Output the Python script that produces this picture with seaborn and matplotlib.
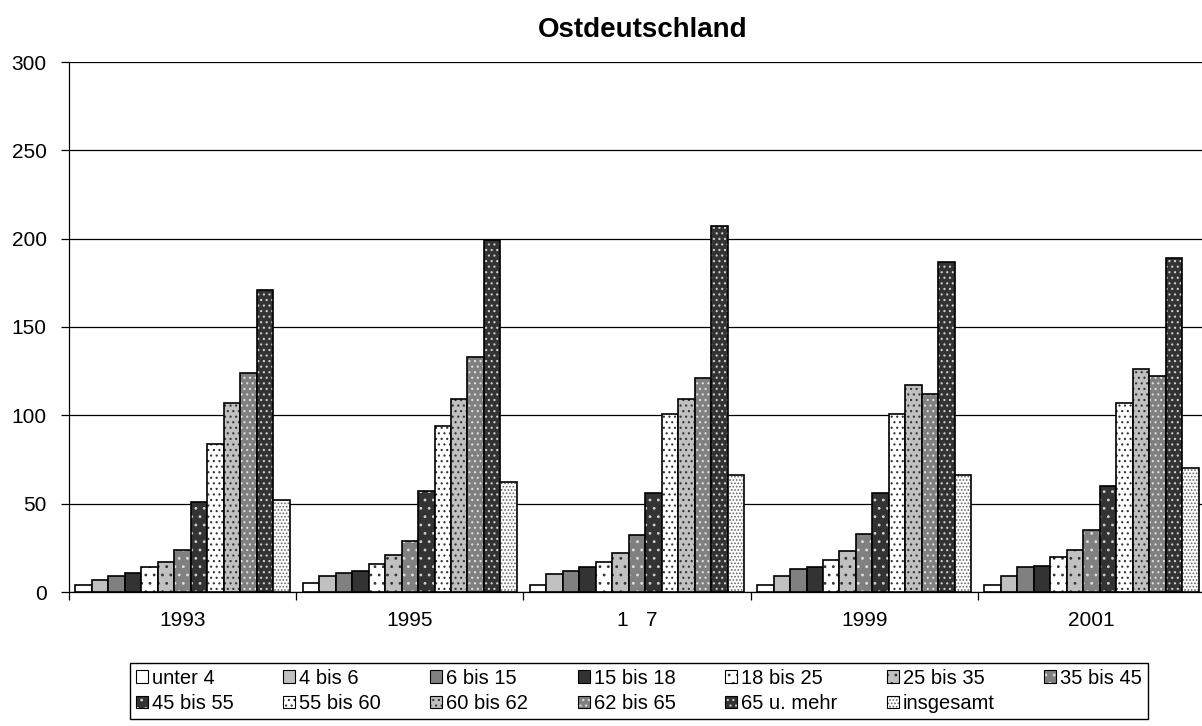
import pandas as pd
import seaborn as sns
import matplotlib.pyplot as plt
from matplotlib.patches import Patch
from matplotlib.colors import to_rgba

# ----------------------------- DATEN -----------------------------
years = ["1993", "1995", "1   7", "1999", "2001"]

unter_4 = [4, 5, 4, 4, 4]
bis_6 = [7, 9, 10, 9, 9]
bis_15 = [9, 11, 12, 13, 14]
bis_18 = [11, 12, 14, 14, 15]
bis_25 = [14, 16, 17, 18, 20]
bis_35 = [17, 21, 22, 23, 24]
bis_45 = [24, 29, 32, 33, 35]
bis_55 = [51, 57, 56, 56, 60]
bis_60 = [84, 94, 101, 101, 107]
bis_62 = [107, 109, 109, 117, 126]
bis_65 = [124, 133, 121, 112, 122]
ueber_65 = [171, 199, 207, 187, 189]
insgesamt = [52, 62, 66, 66, 70]

groups = ["unter 4", "4 bis 6", "6 bis 15", "15 bis 18", "18 bis 25", "25 bis 35",
          "35 bis 45", "45 bis 55", "55 bis 60", "60 bis 62", "62 bis 65",
          "65 u. mehr", "insgesamt"]
series = [unter_4, bis_6, bis_15, bis_18, bis_25, bis_35, bis_45,
          bis_55, bis_60, bis_62, bis_65, ueber_65, insgesamt]

# Stil pro Gruppe (Füllung, Schraffur, Punktfarbe)
faces = ["white", "#c0c0c0", "#808080", "#333333",
         "white", "#c0c0c0", "#808080", "#333333",
         "white", "#c0c0c0", "#808080", "#333333", "white"]
hatches = ["", "", "", "",
           "..", "..", "..", "..",
           "...", "...", "...", "...", "....."]
dot_colors = ["black", "black", "black", "black",
              "#333333", "#333333", "#e0e0e0", "#d0d0d0",
              "#333333", "#333333", "#e0e0e0", "#d0d0d0", "#666666"]

rows = []
for g, vals in zip(groups, series):
    for y, v in zip(years, vals):
        rows.append({"Jahr": y, "Gruppe": g, "Wert": v})
df = pd.DataFrame(rows)

# ----------------------------- PLOT -----------------------------
sns.set_style("white")
plt.rcParams["font.family"] = ["Liberation Sans", "DejaVu Sans"]
plt.rcParams["hatch.linewidth"] = 0.8
plt.rcParams["text.color"] = "black"
plt.rcParams["xtick.color"] = "black"
plt.rcParams["ytick.color"] = "black"

fig = plt.figure(figsize=(12.02, 7.26), dpi=100)
ax = fig.add_axes([69 / 1202, 1 - 592 / 726, (1205 - 69) / 1202, (592 - 62) / 726])

sns.barplot(data=df, x="Jahr", y="Wert", hue="Gruppe", order=years, hue_order=groups,
            palette=faces, saturation=1, width=0.943, gap=0, edgecolor="black",
            linewidth=1.2, legend=False, ax=ax)


def set_dots(patch, color):
    if hasattr(patch, "set_hatchcolor"):
        patch.set_hatchcolor(color)
    else:
        patch._hatch_color = to_rgba(color)


for i, cont in enumerate(ax.containers):
    for bar in cont:
        bar.set_hatch(hatches[i])
        set_dots(bar, dot_colors[i])

ax.set_ylim(0, 300)
ax.set_xlim(-0.5, 4.5)
ax.set_yticks(range(0, 301, 50))
ax.yaxis.grid(True, color="black", linewidth=0.9)
ax.set_axisbelow(True)
ax.set_xticks([-0.5, 0.5, 1.5, 2.5, 3.5], minor=True)
ax.tick_params(axis="x", which="major", length=0, labelsize=15, pad=14,
               labelcolor="black")
ax.tick_params(axis="x", which="minor", length=6, width=0.9, direction="out", bottom=True)
ax.tick_params(axis="y", length=6, width=0.9, direction="out", left=True, labelsize=15,
               pad=10, labelcolor="black")
for side in ["top", "right"]:
    ax.spines[side].set_visible(False)
for side in ["left", "bottom"]:
    ax.spines[side].set_color("black")
    ax.spines[side].set_linewidth(0.9)
ax.set_xlabel("")
ax.set_ylabel("")

fig.text(643 / 1202, 1 - 30 / 726, "Ostdeutschland", ha="center", va="center",
         fontsize=20, fontweight="bold", color="black")

handles = []
for i, g in enumerate(groups):
    p = Patch(facecolor=faces[i], edgecolor="black", hatch=hatches[i], linewidth=0.8, label=g)
    set_dots(p, dot_colors[i])
    handles.append(p)

# Legende zeilenweise füllen (matplotlib füllt spaltenweise)
ncol = 7
order = []
for c in range(ncol):
    order += [k for k in (c, c + ncol) if k < len(handles)]
handles = [handles[k] for k in order]

leg = fig.legend(handles=handles, ncol=ncol, loc="center",
                 bbox_to_anchor=(639 / 1202, 1 - 691 / 726), fontsize=14.5,
                 frameon=True, fancybox=False, edgecolor="black", framealpha=1,
                 handlelength=0.6, handleheight=0.6, handletextpad=0.2,
                 columnspacing=2.45, labelspacing=0.3, borderpad=0.3, borderaxespad=0)
leg.get_frame().set_linewidth(1.0)
for t in leg.get_texts():
    t.set_color("black")

plt.savefig("out.png", dpi=100)
